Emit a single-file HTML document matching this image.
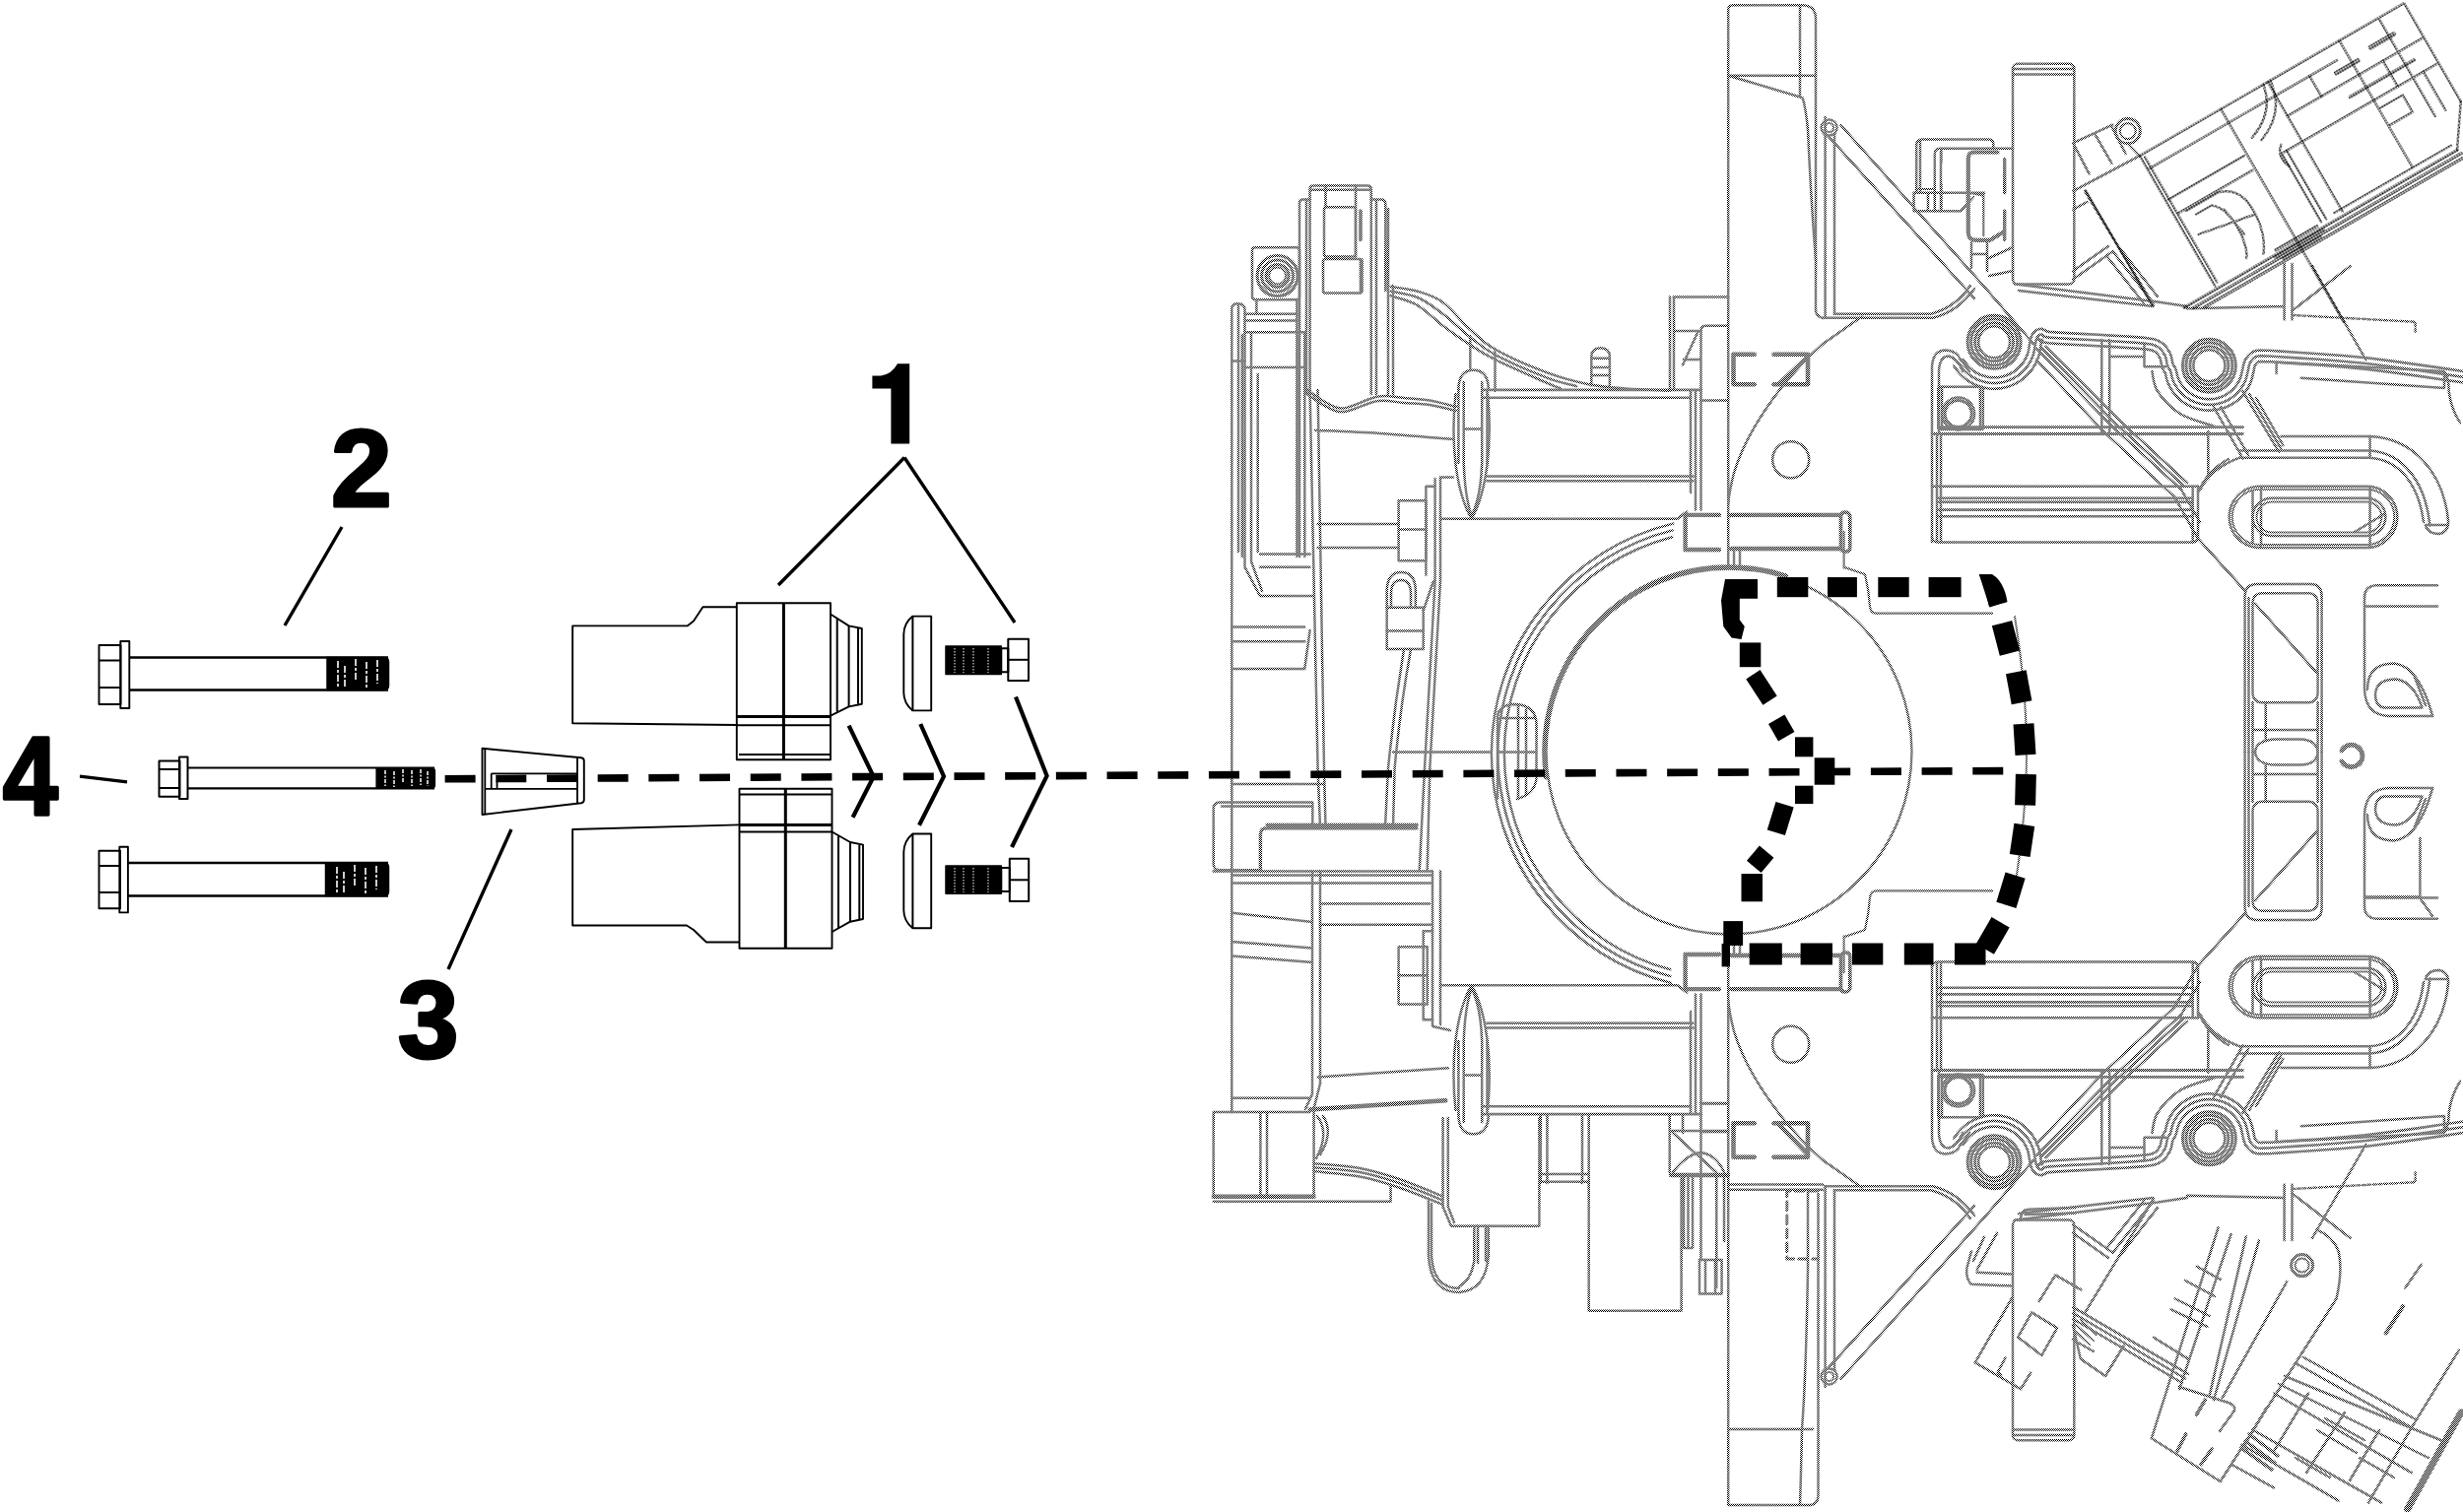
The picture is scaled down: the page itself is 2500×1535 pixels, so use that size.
<!DOCTYPE html>
<html>
<head>
<meta charset="utf-8">
<title>Exploded view</title>
<style>
html,body{margin:0;padding:0;background:#fff;}
body{width:2500px;height:1535px;overflow:hidden;font-family:"Liberation Sans",sans-serif;}
svg{display:block;position:absolute;left:0;top:0;}
.num{font-family:"Liberation Sans",sans-serif;font-weight:bold;fill:#000;stroke:#000;stroke-width:3.2px;stroke-linejoin:round;}
</style>
</head>
<body>
<svg width="2500" height="1535" viewBox="0 0 2500 1535">
<defs>
<pattern id="dz" width="2" height="2" patternUnits="userSpaceOnUse">
<rect x="0" y="0" width="1" height="1" fill="#000"/><rect x="1" y="1" width="1" height="1" fill="#000"/>
</pattern>
<pattern id="dk" width="2" height="2" patternUnits="userSpaceOnUse">
<rect x="0" y="0" width="2" height="2" fill="#000"/><rect x="1" y="0" width="1" height="1" fill="#fff"/>
</pattern>
</defs>
<rect x="0" y="0" width="2500" height="1535" fill="#fff"/>

<!-- ENGINE (gray dithered line art) -->
<g id="engine" fill="none" stroke="url(#dz) #808080" stroke-width="2.5" stroke-linecap="round" stroke-linejoin="round">
<!--ENGINE-BEGIN-->
<g id="symg">
<path d="M1504.2 395.9H1726.5M1504.2 403.8H1716M1509.5 483.5H1718.5M1509.5 488.3H1718.5" stroke-width="2.6"/>
<path d="M1716 396V500M1721 396V517.6M1726.5 396V517.6"/>
<path d="M1726.5 406.5H1754.2"/>
<path d="M1462 526.8H1702.6L1712 519.5"/>
<path d="M1480.4 396Q1480.4 375.7 1495.5 375.7Q1510.8 375.7 1510.8 396"/>
<path d="M1477.5 400C1472 450 1478 500 1493.7 527C1509 500 1515 450 1510 400"/>
<path d="M1485.7 388V470Q1487 505 1493.7 524Q1503 505 1504.2 470V388M1480.4 396V470M1509.5 396V470M1485.7 435.6H1504.2"/>
<path d="M1710.6 522.9H1745M1757 522.9H1868M1757 557H1868" stroke-width="4.4"/>
<path d="M1710.6 522V558H1745" stroke-width="4.4"/>
<path d="M1760 575.8V557M1766 575.8V557"/>
<path d="M1850 349.2Q1826 371 1808.5 393Q1772 440 1760 480Q1755 500 1754.2 512"/>
<circle cx="1817.7" cy="466.8" r="18.5"/>
<circle cx="2024.1" cy="347.3" r="27.0" stroke-width="3"/>
<circle cx="2024.1" cy="347.3" r="23.5" stroke-width="3"/>
<circle cx="2024.1" cy="347.3" r="19.5" stroke-width="3"/>
<circle cx="2024.1" cy="347.3" r="16.0" stroke-width="2.6"/>
<circle cx="2242.4" cy="371.2" r="27.0" stroke-width="3"/>
<circle cx="2242.4" cy="371.2" r="23.5" stroke-width="3"/>
<circle cx="2242.4" cy="371.2" r="19.5" stroke-width="3"/>
<circle cx="2242.4" cy="371.2" r="16.0" stroke-width="2.6"/>
<path d="M1992.7 364.9L1993.6 366.2L1994.8 368.1L1996.2 369.9L1997.4 371.5L1998.7 372.8L2000.1 374.1L2001.5 375.3L2003.0 376.5L2004.6 377.6L2006.2 378.5L2007.9 379.4L2009.6 380.3L2011.4 381.0L2013.2 381.6L2015.0 382.1L2016.8 382.6L2018.7 382.9L2020.6 383.1L2022.5 383.3L2024.4 383.3L2026.2 383.2L2028.1 383.1L2030.0 382.8L2031.9 382.4L2033.7 382.0L2035.5 381.4L2037.3 380.8L2039.1 380.0L2040.8 379.2L2042.4 378.3L2044.1 377.3L2045.6 376.2L2047.1 375.0L2048.5 373.8L2049.9 372.4L2051.2 371.0L2052.4 369.6L2053.5 368.1L2054.6 366.5L2055.5 364.8L2056.4 363.2L2057.2 361.4L2057.9 359.7L2058.5 357.9L2058.9 356.2L2059.3 354.3L2059.6 352.1L2060.0 349.9L2060.4 347.8L2060.8 345.5L2061.4 343.0L2062.4 340.4L2063.8 338.2L2065.7 336.2L2068.4 334.5L2072.0 333.8L2076.8 335.8L2076.9 336.3L2076.5 336.2L2080.6 336.9L2090.0 337.6L2102.9 338.4L2117.1 339.1L2130.3 339.8L2142.9 340.6L2155.6 341.3L2167.3 342.1L2176.6 342.9L2182.7 343.7L2186.8 344.4L2190.0 345.6L2193.1 347.2L2196.3 349.6L2199.0 352.6L2201.0 355.6L2202.7 358.6L2203.9 361.9L2204.6 365.1L2205.0 367.6L2205.4 369.2L2205.8 370.0L2206.3 370.8L2207.3 372.4L2208.4 374.8L2209.2 377.4L2209.8 379.9L2210.3 382.0L2210.8 383.9L2211.6 385.6L2212.5 387.4L2213.5 389.2L2214.7 390.9L2215.9 392.5L2217.2 394.0L2218.6 395.5L2220.1 396.9L2221.7 398.1L2223.3 399.3L2225.0 400.4L2226.8 401.4L2228.6 402.3L2230.5 403.0L2232.4 403.7L2234.4 404.2L2236.3 404.7L2238.4 405.0L2240.4 405.1L2242.4 405.2L2244.4 405.1L2246.4 405.0L2248.5 404.7L2250.4 404.2L2252.4 403.7L2254.3 403.0L2256.2 402.3L2258.0 401.4L2259.8 400.4L2261.5 399.3L2263.1 398.1L2264.7 396.9L2266.2 395.5L2267.6 394.0L2268.9 392.5L2270.1 390.9L2271.3 389.2L2272.3 387.4L2273.2 385.6L2274.0 383.8L2274.6 382.0L2275.1 380.0L2275.6 377.7L2276.2 375.5L2276.6 373.3L2277.1 371.0L2277.8 368.2L2278.9 365.4L2280.5 362.9L2282.4 360.6L2284.8 358.4L2287.9 356.7L2291.2 355.8L2294.4 355.6L2297.2 355.7L2300.1 355.8L2301.6 355.8L2303.0 355.8L2306.5 356.0L2315.4 356.6L2331.7 357.7L2353.5 359.2L2377.9 361.0L2402.2 363.3L2428.4 366.6L2457.0 370.6L2482.9 374.4L2500.8 377.1" stroke-width="2.6"/>
<path d="M1988.0 368.2L1988.9 369.5L1990.2 371.3L1991.6 373.4L1993.2 375.2L1994.7 376.8L1996.3 378.3L1997.9 379.8L1999.7 381.1L2001.5 382.3L2003.4 383.5L2005.3 384.5L2007.3 385.5L2009.3 386.3L2011.4 387.0L2013.5 387.6L2015.7 388.1L2017.8 388.5L2020.0 388.8L2022.2 389.0L2024.4 389.0L2026.6 388.9L2028.8 388.7L2031.0 388.4L2033.1 388.0L2035.3 387.5L2037.4 386.8L2039.4 386.1L2041.4 385.2L2043.4 384.3L2045.3 383.2L2047.2 382.0L2049.0 380.7L2050.7 379.4L2052.4 377.9L2054.0 376.4L2055.5 374.8L2056.9 373.1L2058.2 371.3L2059.4 369.5L2060.5 367.6L2061.5 365.7L2062.4 363.7L2063.3 361.6L2064.0 359.5L2064.5 357.4L2064.9 355.2L2065.2 353.1L2065.6 350.9L2066.0 348.8L2066.4 346.6L2066.8 344.7L2067.5 343.0L2068.4 341.7L2069.4 340.6L2070.6 339.8L2072.0 339.5L2072.8 339.8L2073.2 340.6L2075.0 341.7L2080.0 342.6L2089.6 343.3L2102.6 344.1L2116.8 344.8L2130.0 345.5L2142.5 346.3L2155.2 347.0L2166.8 347.8L2176.0 348.6L2181.9 349.3L2185.4 349.9L2187.7 350.7L2190.0 352.0L2192.4 353.8L2194.5 356.1L2196.1 358.5L2197.5 361.0L2198.5 363.5L2199.0 366.2L2199.5 368.8L2200.0 371.0L2200.7 372.7L2201.5 373.9L2202.3 375.2L2203.1 376.7L2203.7 378.8L2204.2 381.1L2204.8 383.6L2205.5 385.9L2206.4 388.0L2207.5 390.1L2208.7 392.2L2210.0 394.2L2211.4 396.0L2213.0 397.8L2214.6 399.6L2216.4 401.2L2218.2 402.7L2220.1 404.0L2222.1 405.3L2224.2 406.5L2226.3 407.5L2228.5 408.4L2230.7 409.1L2233.0 409.8L2235.3 410.3L2237.7 410.6L2240.0 410.8L2242.4 410.9L2244.8 410.8L2247.1 410.6L2249.5 410.3L2251.8 409.8L2254.1 409.1L2256.3 408.4L2258.5 407.5L2260.6 406.5L2262.7 405.3L2264.7 404.0L2266.6 402.7L2268.4 401.2L2270.2 399.6L2271.8 397.8L2273.4 396.0L2274.8 394.2L2276.1 392.2L2277.3 390.1L2278.4 388.0L2279.3 385.9L2280.0 383.6L2280.6 381.3L2281.2 379.0L2281.7 376.7L2282.2 374.5L2282.6 372.2L2283.2 370.0L2284.0 368.0L2285.1 366.2L2286.5 364.5L2288.1 363.0L2290.0 362.0L2292.1 361.5L2294.4 361.3L2297.1 361.4L2300.0 361.5L2301.7 361.5L2302.7 361.5L2306.1 361.7L2315.0 362.3L2331.3 363.4L2353.1 364.8L2377.4 366.7L2401.6 369.0L2427.7 372.3L2456.2 376.3L2482.0 380.1L2500.0 382.7" stroke-width="2.6"/>
<path d="M1983.3 371.4L1984.2 372.7L1985.5 374.6L1987.1 376.9L1988.9 379.0L1990.6 380.9L1992.5 382.6L1994.4 384.2L1996.4 385.7L1998.4 387.1L2000.6 388.4L2002.8 389.6L2005.0 390.7L2007.3 391.6L2009.7 392.5L2012.1 393.2L2014.5 393.7L2017.0 394.2L2019.5 394.5L2022.0 394.7L2024.4 394.7L2026.9 394.6L2029.4 394.4L2031.9 394.1L2034.4 393.6L2036.8 393.0L2039.2 392.2L2041.5 391.4L2043.8 390.4L2046.1 389.3L2048.2 388.1L2050.4 386.8L2052.4 385.3L2054.4 383.8L2056.2 382.1L2058.0 380.4L2059.7 378.6L2061.3 376.6L2062.8 374.6L2064.2 372.5L2065.5 370.4L2066.6 368.2L2067.7 365.9L2068.6 363.6L2069.4 361.2L2070.1 358.6L2070.5 356.2L2070.9 354.0L2071.2 352.0L2071.6 349.8L2072.0 347.7L2072.3 346.3L2072.6 345.6L2072.9 345.1L2073.0 344.9L2072.7 345.1L2072.0 345.2L2068.7 343.9L2069.5 345.0L2073.4 347.2L2079.4 348.3L2089.3 349.0L2102.3 349.7L2116.5 350.5L2129.7 351.2L2142.2 351.9L2154.9 352.7L2166.4 353.5L2175.4 354.3L2181.1 354.9L2184.0 355.5L2185.4 355.9L2186.9 356.8L2188.6 358.0L2190.0 359.6L2191.3 361.5L2192.3 363.4L2193.0 365.1L2193.4 367.3L2193.9 369.9L2194.6 372.8L2195.7 375.3L2196.7 377.0L2197.3 377.9L2197.7 378.7L2198.2 380.2L2198.6 382.4L2199.3 385.1L2200.2 387.9L2201.3 390.4L2202.5 392.9L2203.9 395.2L2205.4 397.5L2207.0 399.6L2208.8 401.7L2210.6 403.6L2212.6 405.5L2214.7 407.2L2216.9 408.8L2219.2 410.2L2221.6 411.5L2224.0 412.7L2226.5 413.7L2229.1 414.6L2231.7 415.3L2234.3 415.9L2237.0 416.3L2239.7 416.5L2242.4 416.6L2245.1 416.5L2247.8 416.3L2250.5 415.9L2253.1 415.3L2255.7 414.6L2258.3 413.7L2260.8 412.7L2263.2 411.5L2265.6 410.2L2267.9 408.8L2270.1 407.2L2272.2 405.5L2274.2 403.6L2276.0 401.7L2277.8 399.6L2279.4 397.5L2280.9 395.2L2282.3 392.9L2283.5 390.4L2284.6 387.9L2285.5 385.2L2286.2 382.7L2286.7 380.3L2287.3 378.0L2287.8 375.6L2288.2 373.4L2288.6 371.8L2289.1 370.6L2289.8 369.5L2290.6 368.4L2291.4 367.7L2292.1 367.3L2293.0 367.1L2294.5 367.0L2296.9 367.1L2299.9 367.2L2301.8 367.2L2302.5 367.1L2305.7 367.3L2314.6 368.0L2331.0 369.1L2352.7 370.5L2377.0 372.4L2401.0 374.7L2426.9 377.9L2455.4 381.9L2481.2 385.7L2499.2 388.3" stroke-width="2.6"/>
<path d="M1961 550V372Q1962 355.5 1975 355.5Q1986 356 1990 365L1999 377"/>
<path d="M1968 440V376Q1969 361.5 1978 361.5Q1986 363 1992.3 377"/>
<rect x="1967.3" y="392.8" width="45.5" height="43.2" rx="2.0"/>
<circle cx="1987.7" cy="420.0" r="13.6" stroke-width="3"/>
<circle cx="1987.7" cy="420.0" r="16.5" stroke-width="2.4"/>
<path d="M2010 392.8V436M1971 392.8V436"/>
<path d="M1961 545Q1961.5 550.5 1967 550.5H2226Q2231 550 2231 545V493.8M2225.7 493.8V549M1966 442V549M1970 442V549"/>
<path d="M1967.3 433.7H2276.5M1961 440.5H2276.5" stroke-width="2.8"/>
<path d="M1961 493.8H2231M1968 505.7H2225M1968 509.6H2225M1968 517.6H2225M1968 524.2H2225" stroke-width="2.6"/>
<path d="M2241.3 438.3V486"/>
<path d="M2067.3 354L2144.6 433.7M2076.4 351.9L2153.7 429.2M2067 365.5L2135.5 438.3M2072 353L2149 431.5"/>
<path d="M2133.3 345V438.3M2141.2 345V438.3M2141.2 362H2176.5M2176.5 348.4V372.3H2198"/>
<path d="M2184.4 376.9C2185.3 380.3 2185.3 390.1 2190.0 397.3C2194.7 404.5 2203.3 414.1 2212.8 420.0C2222.3 425.9 2241.3 430.5 2247.0 432.6"/>
<path d="M2135.5 438.3L2207 504.3L2231 546.7L2278.6 599.6M2144.6 433.7L2214 497L2233 530M2153.7 429.2L2220 490M2149 431.5L2217 493.5"/>
<path d="M2276.5 397.3L2313 458.7M2290 404L2317.4 452M2247 413.2L2276.5 465.5M2283 400L2315 455M2254 413L2282 462"/>
<path d="M2313 367.8L2481 376.9Q2486 385 2485.7 397.3Q2488 415 2497 429.2M2335.6 383.7L2481 394M2310.6 367.8V379.1M2481 376.9V394"/>
<path d="M2315.6 443H2405.6C2450 445 2480 480 2485 528Q2486 540 2476 542Q2464 542 2462 533"/>
<path d="M2273.3 457.5H2405.6C2440 460 2462 490 2466.4 533.4M2273.3 464.7H2405.6C2436 467 2455 492 2460 530M2405.6 443V465M2462 533H2485"/>
<path d="M2233.6 496.4Q2245 475 2273.3 464.7M2231 500Q2240 478 2262 466"/>
<rect x="2262.7" y="493.8" width="170.6" height="62.2" rx="31.1"/>
<rect x="2265.7" y="496.8" width="164.6" height="56.2" rx="28.1" stroke-width="2"/>
<rect x="2286.5" y="505.7" width="134.9" height="38.3" rx="19.2"/>
<rect x="2290.5" y="509.5" width="126.9" height="31.0" rx="15.5" stroke-width="2"/>
<path d="M2286.5 499V551M2295 496V554M2405.6 493.8V556M2390 540L2420 522"/>
<path d="M1871.6 540V576.4M1873.3 576.4L1893 583Q1897 600 1898 616Q1899 622.7 1905 622.7H2022" stroke-width="2.2"/>
<path d="M1868.5 524V556Q1869 560 1873 560Q1877.8 560 1877.8 556V524Q1877 520 1873 520Q1869 520 1868.5 524" stroke-width="3.6"/>
<path d="M2045 626Q2057 700 2057 763.5" stroke-width="2"/>
<path d="M2278.6 763.5V605Q2279 593 2291 593H2345Q2356.6 593 2356.6 605V763.5M2282.5 763.5V607"/>
<rect x="2286.5" y="602.2" width="66.1" height="111.1" rx="9.0"/>
<path d="M2289 612.8L2352.6 684.2M2299.7 713.3V750.4M2286.5 741H2352.6M2289 763.5Q2290 751 2310 750.4H2335Q2352 751 2352.6 763.5M2286.5 713V763.5M2352.6 713V763.5"/>
<path d="M2474 594.3H2412Q2400 595 2400 607V700Q2401 726 2425 727H2469M2400 615.4H2474"/>
<path d="M2403 700Q2403 673.6 2430 673.6Q2455 676 2469 726.6M2411 705Q2412 689.5 2432 689.5Q2450 692 2458.5 718.6H2420Q2411 717 2411 705M2450 685L2462 716"/>
<path d="M1852.6 119V322.8M1862 135V318.8"/>
<circle cx="1856.6" cy="129.6" r="8.0"/>
<circle cx="1856.6" cy="129.6" r="4.5" stroke-width="2"/>
<path d="M1868.5 127L2013.3 290.2L2064 349M1855.3 137.6L2004 303"/>
<path d="M1862 318.8H1960Q1985 312 2000 290M1852 322.8H1962Q1988 316 2004 293M1889.7 321.4L1850 349.2"/>
<rect x="2043.0" y="64.8" width="62.3" height="223.6" rx="5.0"/>
<path d="M2044 75.4H2104.5M2044 70H2104.5"/>
<path d="M2044.6 288.2L2190 306.4L2219.7 311M2049 295L2185.6 311M2219.7 313.2L2318.6 311M2318.6 268V324.6M2326.5 268V324.6"/>
<path d="M2326.5 320L2451.6 326.8V337" stroke-width="2.4" stroke-dasharray="3 2.5"/>
<path d="M2347 270L2401.6 365.5M2385.7 270L2326.5 315.5"/>
<path d="M2104.2 283.6L2144.5 255.3M2104.2 275L2140 250M2144.5 255.3L2183.8 305.5M2138 259.5L2176 308M2151 251L2190 301M2116.2 194.2L2186 309.8"/>
</g>
<use href="#symg" transform="matrix(1 0 0 -1 0 1527)"/>
<path d="M1754.2 575.8V10Q1754.2 5.3 1759 5.3H1830Q1843 6 1843 19V316Q1844 321 1850 323"/>
<path d="M1827 5.3V97"/>
<path d="M1754.2 76.7H1843M1754.2 76.7L1829.6 99.2Q1833 110 1835 132Q1838 200 1843 264"/>
<path d="M1754.2 981V1527.9H1838Q1845.5 1527 1845.5 1518V1212"/>
<path d="M1754.2 1202.5H1850M1754.2 1207.8H1850M1754.2 1451H1840"/>
<path d="M1835 1207.8V1290Q1833 1400 1829 1451Q1828 1500 1827 1527"/>
<path d="M1754.2 301.6H1698.7M1695 301.6V396M1699 301.6V396"/>
<path d="M1753 330.7H1731Q1726.5 331 1726.5 336V396M1723.8 336L1708 370.4M1699 336H1726.5M1709 365H1725"/>
<path d="M1780.7 359.8H1759.5V390.2H1780.7M1800.5 359.8H1835V390.2H1800.5M1835 362L1806 390" stroke-width="4.6"/>
<path d="M1695.9 997.9A240.0 240.0 0 0 1 1698.0 531.6"/>
<path d="M1695.5 991.1A233.5 233.5 0 0 1 1697.5 538.4"/>
<path d="M1695.2 984.3A227.0 227.0 0 0 1 1697.2 545.2"/>
<circle cx="1755.0" cy="763.0" r="185.5" stroke-width="2.4"/>
<path d="M1569.3 789.1A187.5 187.5 0 0 1 1812.9 584.7" stroke-width="4.6"/>
<path d="M1520 811V728Q1521 715 1538 715Q1559 716 1559.5 735V790Q1558 806 1540 811"/>
<path d="M1520 729H1558M1520 763.6H1558M1541 716V810M1549 720V806"/>
<path d="M1329.6 400V192Q1329.6 188.4 1334 188.4H1388Q1391.8 188.4 1391.8 192V400"/>
<path d="M1331 192.8H1391M1345.5 188.4V210M1376 188.4V260.6M1326 202.4V400M1397 204V400"/>
<path d="M1329.6 202.4H1322Q1319 202.4 1319 206V341"/>
<path d="M1391.8 202.4H1402Q1406.3 202.4 1406.3 207V295M1409 212V400M1414 290V400"/>
<rect x="1344.0" y="210.3" width="32.0" height="50.3" rx="2.0"/>
<rect x="1343.0" y="263.0" width="39.5" height="34.6" rx="2.0"/>
<path d="M1381 214V243.4M1381.5 264.5V296.3" stroke-width="3.6"/>
<rect x="1271.0" y="251.3" width="48.0" height="52.9" rx="3.0"/>
<circle cx="1296.6" cy="280.0" r="20.5" stroke-width="3.2"/>
<circle cx="1296.6" cy="280.0" r="16.0" stroke-width="3.2"/>
<circle cx="1296.6" cy="280.0" r="11.5" stroke-width="3.2"/>
<circle cx="1296.6" cy="280.0" r="8.5" stroke-width="2"/>
<path d="M1275.4 304.2V318.8M1316.4 304.2V565M1319 341V565"/>
<path d="M1250.3 1129V313Q1250.3 308.2 1256 308.2Q1263.5 308.2 1263.5 314V575.8L1279 605H1332.3"/>
<path d="M1257 309V560M1260.8 340V565M1270 338V570L1281 600M1276.7 380V560"/>
<path d="M1263.5 318.8H1316.4M1263.5 325.4H1316.4M1263.5 337.3H1324.3M1250.3 366.4H1263.5M1263.5 373H1324.3M1324.3 337.3V565"/>
<path d="M1411.6 291.0C1416.3 291.8 1431.2 293.4 1440.0 296.0C1448.8 298.6 1456.1 300.7 1464.6 306.9C1473.1 313.1 1482.2 325.4 1491.0 333.3C1499.8 341.2 1504.3 347.0 1517.5 354.5C1530.7 362.0 1554.5 372.4 1570.4 378.3C1586.3 384.2 1599.4 387.5 1612.7 390.2C1626.0 392.9 1636.3 393.4 1650.0 394.5C1663.7 395.6 1687.2 396.4 1694.7 396.8"/>
<path d="M1411.6 300.3C1416.0 301.8 1429.2 304.4 1438.0 309.5C1446.8 314.6 1455.8 324.1 1464.6 330.7C1473.4 337.3 1482.2 343.5 1491.0 349.2C1499.8 354.9 1504.3 358.4 1517.5 365.0C1530.7 371.6 1559.4 384.0 1570.4 388.9C1581.4 393.8 1581.4 393.3 1583.6 394.2"/>
<path d="M1411.6 295.6C1416.3 296.8 1431.2 298.6 1440.0 302.5C1448.8 306.4 1456.1 312.4 1464.6 318.8C1473.1 325.2 1482.2 334.3 1491.0 341.2C1499.8 348.1 1504.3 352.9 1517.5 360.0C1530.7 367.1 1556.7 378.3 1570.4 383.6C1584.2 388.9 1595.1 390.6 1600.0 392.0"/>
<path d="M1615.3 391.5V362Q1615.5 353.2 1624.6 353.2Q1633.9 353.2 1633.9 362V391.5M1615.3 363.8H1633.9M1615.3 373H1633.9M1615.3 381H1633.9"/>
<path d="M1492.3 341.3V375.7M1517.5 357V397"/>
<path d="M1279 562.5H1329.6M1279 575.8H1329.6"/>
<path d="M1250.3 636.6H1324.3M1250.3 651.2H1324.3M1250.3 679H1324.3L1329.6 640"/>
<path d="M1329.6 396L1337.6 780M1337.6 396L1344 780"/>
<path d="M1327.0 396.0C1330.0 398.0 1338.8 404.9 1345.0 408.0C1351.2 411.1 1355.1 415.3 1364.0 414.4C1372.9 413.5 1388.2 404.2 1398.4 402.5C1408.6 400.8 1416.2 403.3 1425.0 404.0C1433.8 404.7 1442.5 405.0 1451.3 406.5C1460.1 408.0 1473.4 411.9 1477.8 413.0"/>
<path d="M1327.0 400.0C1330.0 402.0 1338.8 409.0 1345.0 412.0C1351.2 415.0 1355.1 418.8 1364.0 418.0C1372.9 417.2 1388.2 408.5 1398.4 407.0C1408.6 405.5 1416.2 408.3 1425.0 409.0C1433.8 409.7 1442.5 409.7 1451.3 411.0C1460.1 412.3 1473.4 416.0 1477.8 417.0"/>
<path d="M1335.0 436.9C1345.8 437.4 1376.7 438.5 1400.0 440.0C1423.3 441.5 1462.5 445.0 1475.0 446.0"/>
<path d="M1337.6 532H1419.6M1337.6 556H1419.6"/>
<rect x="1419.6" y="508.3" width="27.8" height="60.9"/>
<path d="M1419.6 537.4H1447.4"/>
<path d="M1447.4 493.8V583.7M1447.4 493.8H1456.6M1462 484.5H1475"/>
<path d="M1456.6 486V590L1446 780M1462 485V590L1451.3 780"/>
<path d="M1407.7 617V600Q1408 581 1422 581Q1436.8 581 1436.8 600V617M1412 617V603Q1412 589 1422 589Q1432 589 1432 603V617"/>
<rect x="1407.7" y="616.8" width="37.0" height="42.2"/>
<path d="M1407.7 640.6H1444.7"/>
<path d="M1425 659Q1415 720 1409 780L1406 839.5M1432 659Q1421 720 1415.6 780L1414 839.5M1444.7 620L1455 590"/>
<path d="M1414.3 763.6H1512"/>
<path d="M1344 780L1345.5 839.5M1337.6 780L1340 839.5M1446 780L1440.7 884M1451.3 780L1448.7 884"/>
<path d="M1250.3 795.9H1343"/>
<path d="M1332.3 814.4H1238Q1231.7 814.4 1231.7 821V877Q1231.7 883.2 1238 883.2H1280M1332.3 814.4V839.5M1240 818.5H1330"/>
<path d="M1279.4 884V847Q1279.4 840.8 1286 840.8H1438M1286 837.5H1438" stroke-width="3.4"/>
<path d="M1231.7 884.5H1454M1250.3 888.5H1454M1250.3 896.4H1454"/>
<path d="M1332 884.5V1110.7M1340 884.5V1100"/>
<path d="M1340 917.6H1451M1340 938.7H1454"/>
<path d="M1250.3 926.8L1332 936M1250.3 956L1332 962.6M1250.3 970.5L1332 977M1250.3 1114.7H1328"/>
<path d="M1454 884.5V1042L1472 1046M1462 884.5V1040"/>
<rect x="1419.6" y="961.2" width="29.1" height="58.2"/>
<path d="M1419.6 990.3H1448.7M1444.7 945.3V1035.3M1444.7 945.3H1454M1444.7 1035.3H1454"/>
<path d="M1337.6 1093.5L1469.8 1084.2"/>
<path d="M1329.6 1126.5L1467.2 1117.3" stroke-width="4.4"/>
<path d="M1332 1110.7L1325 1126M1340 1100L1334 1124"/>
<path d="M1231.7 1129H1329.6M1231.7 1129V1214.4M1279.4 1129V1214M1286 1129V1214M1333.6 1126V1214"/>
<path d="M1231.7 1214.8H1333.6" stroke-width="4.4"/>
<path d="M1231.7 1219.7H1411.6V1202.5"/>
<path d="M1337 1133Q1350 1150 1336 1176M1343 1133Q1354 1150 1340 1172"/>
<path d="M1333.6 1181.3C1341.3 1182.1 1365.6 1183.4 1380.0 1186.0C1394.4 1188.6 1405.9 1192.3 1420.0 1197.0C1434.1 1201.7 1457.2 1211.5 1464.6 1214.4"/>
<path d="M1333.6 1185.3C1341.3 1186.1 1365.6 1187.4 1380.0 1190.0C1394.4 1192.6 1405.9 1196.3 1420.0 1201.0C1434.1 1205.7 1457.2 1215.5 1464.6 1218.4"/>
<path d="M1333.6 1189.0C1341.3 1189.9 1365.6 1191.8 1380.0 1194.5C1394.4 1197.2 1405.9 1200.8 1420.0 1205.5C1434.1 1210.2 1457.2 1220.1 1464.6 1223.0"/>
<path d="M1450 1217V1275Q1452 1312 1481 1312Q1508 1310 1510.8 1275V1244.8M1453 1222V1275Q1455 1308 1481 1308M1496.3 1244.8V1280Q1493 1300 1481 1306M1500 1244.8V1282M1508 1244.8V1280"/>
<path d="M1464.6 1135V1225L1473 1244.8H1562.4V1135M1469.8 1135V1225L1476 1241"/>
<path d="M1563.8 1132V1201M1570.4 1132V1201M1606 1132V1201M1612.7 1132V1201M1563.8 1191.9H1612.7M1563.8 1199.8H1612.7"/>
<path d="M1612.7 1201V1330.8H1706.6V1196"/>
<path d="M1694.7 1132V1190M1708 1132V1150M1694.7 1148H1754.2M1726.5 1132V1193"/>
<path d="M1696 1193H1754" stroke-width="4.4"/>
<path d="M1698 1150L1742 1190M1698 1190Q1712 1172 1726 1170Q1742 1172 1750 1190M1726.5 1120H1754.2M1726.5 1149H1754.2"/>
<path d="M1709 1193V1267M1713.5 1193V1267M1718 1193V1267M1726.5 1193V1279M1709 1267H1718M1742.3 1193V1307M1750 1193V1260"/>
<rect x="1725.0" y="1279.0" width="22.6" height="34.6"/>
<path d="M1731 1279V1313M1741 1279V1313"/>
<path d="M1780.7 1140.3H1759.5V1174.7H1780.7M1800.5 1140.3H1835V1174.7H1800.5M1835 1172L1806 1142" stroke-width="4.6"/>
<path d="M1845 1209H1813.8V1277.9H1845" stroke-width="3" stroke-dasharray="9 5"/>
<path d="M2377.0 761.8A11.2 11.2 0 1 1 2377.0 773.0" stroke-width="4.8"/>
<path d="M2456.4 851V912M2400 910.6H2456.4M2456.4 912L2469 930"/>
<path d="M1945.2 195.8V147Q1945.5 141.5 1951 141.5H2018Q2023.3 141.5 2023.3 146V150.8M1949 144V195.8"/>
<path d="M1963.8 214.3V156Q1964 150.8 1969 150.8H2043M1970 154V214.3"/>
<path d="M1942.6 195.8H2014M1942.6 214.3H1990M1942.6 195.8V214.3M1957 195.8V214.3M1990 214.3L2003 200"/>
<path d="M2027.6 154.5H2004Q1997.8 154.5 1997.8 161V236Q1998 243.8 2006 243.8H2020L2033 236" stroke-width="4.2"/>
<path d="M2013.3 197V239M2000 196L2013.3 198.6M1970.5 151V165M1970.5 187V213M1945.5 192H1962" stroke-width="2.2"/>
<path d="M2034.7 161.4V195.8M2034.7 214.3V243.4" stroke-width="3.4"/>
<path d="M2001 246V272M2017 246V275M2019 262L2043 251M2019 280L2043 275M2003 258H2017"/>
<g transform="translate(2171.8 158.2) rotate(-30)"><path d="M0 0H310M310 0V115M280 0V115M2 16H222M150 40H310M3 53H92M5 70H92M128 70H308M142 149H279"/><path d="M-38 156H282M-30 161H284M-20 166H286" stroke-width="3.2"/><path d="M72 152H120M68 158H124M74 163H118" stroke-width="3.4"/><path d="M0 0V153M95 0V250M150 0V152M234 0V148M126 70V150M132 70V150M-65 3V138M4 4V150"/><path d="M13 72H50Q75 78 72 113Q70 135 59 149M20 80H38Q52 90 49 123Q47 138 42 144M12 99L72 110M47 90L52 122"/><path d="M258 22H285M215 27H240" stroke-width="5"/><path d="M215 55H290" stroke-width="3.6"/><path d="M236 80H262V100H236M130 62Q120 70 126 85M145 0Q140 30 108 41M153 0Q150 35 115 48M190 16V40M262 40V70M292 70V115M310 115L282 156"/></g>
<path d="M2104.2 145.1L2144.5 126.6M2104.2 145.1L2120.6 176.7M2126 135.3L2143.5 165.8M2143.5 128.7L2157.6 156M2159 145L2171.8 158.2"/>
<circle cx="2159.8" cy="133.1" r="12.5" stroke-width="3"/>
<circle cx="2159.8" cy="133.1" r="8.0" stroke-width="2.2"/>
<path d="M2104.2 194.2L2171.8 158.2M2104.2 212.7L2118.4 205"/>
<path d="M2251.5 1246.5L2183.8 1460.3L2253.7 1504L2330 1384L2371.5 1318.5Q2378 1290 2373.7 1270.5Q2368 1255 2351.8 1248.6"/>
<path d="M2264.6 1253L2212.2 1410M2279.8 1255.2L2242.7 1416.6M2292.9 1259.5L2247 1421M2321.3 1301L2255.8 1418.8"/>
<circle cx="2336.6" cy="1284.6" r="11.0" stroke-width="3"/>
<circle cx="2336.6" cy="1284.6" r="7.0" stroke-width="2"/>
<path d="M2229.6 1285.7L2253.7 1298.8M2207.8 1318.5L2242.7 1336M2203.5 1329.4L2240.6 1346.8M2186 1357.7L2221 1379.6M2218 1300L2248 1316"/>
<path d="M2212 1408L2262 1424Q2270 1427 2268 1432L2253 1453"/>
<path d="M2229.6 1436L2238.4 1421M2210 1473L2218.7 1456M2234 1486.5L2245 1471" stroke-width="3.6"/>
<path d="M2104.2 1327.2L2221 1394.8M2104.2 1333L2218 1399.5M2104.2 1339L2215 1404"/>
<path d="M2104 1345L2111.8 1379.6L2137 1397L2155.5 1366.5M2104 1360L2125 1372"/>
<path d="M2330 1384L2447.8 1449.4L2495.8 1370.8M2338 1378L2452 1441"/>
<path d="M2319 1397L2478.4 1462.5M2308.2 1414.5L2447.8 1495.2M2286.4 1451.6L2417.3 1525.7M2275.5 1466.8L2373.7 1523.6M2264.6 1486.5L2308.2 1510.5M2313 1405L2465 1480"/>
<path d="M2498 1434L2443.5 1532.3" stroke-width="7"/>
<path d="M2343 1414.5L2308 1473.4M2380 1434L2341 1495M2447.8 1449.4L2404 1525.7M2415 1452L2385 1503M2300 1430L2278 1468"/>
<path d="M2275 1470L2306 1492M2279 1463L2309 1485M2283 1456L2312 1478" stroke-width="3.4"/>
<path d="M2360 1440L2400 1462M2352 1452L2392 1475M2395 1480L2430 1500M2330 1480L2365 1500" stroke-width="2.4"/>
<path d="M2441.3 1307.6L2457.7 1283.6"/>
<path d="M2421.7 1353.4L2439.1 1326.1" stroke-width="4"/>
<path d="M2042.8 1316.7L2004.8 1383.3L2051.1 1410.2L2061.3 1393.5M2069.6 1321.3L2086.3 1294.4L2112.2 1309.3"/>
<path d="M2062.2 1332.4L2088.1 1348.1L2072.4 1375.9L2048.3 1357.4ZM2035.4 1378.7L2028 1392.6L2031 1396"/>
<path d="M2027 1251.9L2006.7 1288.9M2006.7 1291.7L2042.8 1293.5M2001 1270.4L1996.5 1287Q1995 1298 2001 1303.7L2042.8 1305.6M2014 1256L2003 1280"/>
<path d="M2051 1239Q2051 1228 2060 1227.8L2106 1226M2056 1233L2106 1231.5"/>
<path d="M2107 1345L2125 1361M2107 1352L2121 1365M2112 1340L2128 1355" stroke-width="2"/>
<!--ENGINE-END-->
</g>

<!-- BLACK PARTS -->
<g id="parts" fill="none" stroke="#000" stroke-width="1.9" stroke-linejoin="round" stroke-linecap="butt">
<!--PARTS-BEGIN-->
<!-- top long bolt -->
<rect x="100.5" y="655" width="22" height="60" />
<path d="M100.5 670.5H122.5M100.5 698H122.5" stroke-width="2"/>
<rect x="122.3" y="651" width="9" height="68" />
<path d="M131.5 667.5H394M131.5 700.5H394" stroke-width="2.4"/>
<path d="M332 667.5H390Q394.5 667.5 394.5 672V696Q394.5 700.5 390 700.5H332Z" fill="#000" stroke="#000" stroke-width="1.5"/>
<path d="M343 671V697M350 676V699M361 669V690M372 672V698M383 670V694" stroke="#fff" stroke-width="1.6" stroke-dasharray="7 2 3 2"/>
<!-- bottom long bolt -->
<rect x="100.5" y="863.7" width="21.5" height="58.5" />
<path d="M100.5 879H122M100.5 906H122" stroke-width="2"/>
<rect x="121.3" y="859.7" width="8.6" height="66.7" />
<path d="M129.8 876H394M129.8 909.5H394" stroke-width="2.4"/>
<path d="M330.5 876H390Q394.5 876 394.5 880.5V905Q394.5 909.5 390 909.5H330.5Z" fill="#000" stroke="#000" stroke-width="1.5"/>
<path d="M342 880V906M349 885V908M360 878V899M371 881V907M382 879V903" stroke="#fff" stroke-width="1.6" stroke-dasharray="7 2 3 2"/>
<!-- middle bolt (4) -->
<rect x="161.5" y="772.5" width="21" height="36.2" stroke-width="2"/>
<path d="M161.5 781H182.5M161.5 800H182.5" stroke-width="1.8"/>
<rect x="182" y="768.5" width="8.5" height="42.5" stroke-width="2"/>
<path d="M190.5 779.5H441M190.5 800.3H441" stroke-width="2.2"/>
<path d="M382 779.5H438Q441.5 779.5 441.5 783V797Q441.5 800.3 438 800.3H382Z" fill="#000" stroke="#000" stroke-width="1.2"/>
<path d="M391 782V798M400 783V799M409 781V795M418 782V798M427 781V797M434 783V798" stroke="#fff" stroke-width="1.5" stroke-dasharray="4 1.5 2 1.5"/>
<!-- cone (3) -->
<path d="M489.5 759.8L590 769.3Q592.8 769.6 592.8 772.5V812Q592.8 814.8 590 815.2L489.5 827Z" fill="#fff"/>
<path d="M492.3 760.5V826.5M586 769.5V815.5" stroke-width="1.8"/>
<path d="M498.7 785.3H586M492.3 800.8H586M498.7 785.3V800.8M504.5 793V800.8" stroke-width="1.8"/>
<!-- upper block -->
<path d="M747.8 616.3H713.4L704 630.5L697.6 635.4H581.2V734.2L747.8 736" fill="#fff"/>
<rect x="747.8" y="612.3" width="95.2" height="159" fill="#fff"/>
<path d="M795.4 612.3V771.3" stroke-width="3"/>
<path d="M747.8 727.6H843" stroke-width="3"/>
<path d="M747.8 736.2H843M750 766H843" stroke-width="2"/>
<path d="M843 623.5L861.6 635.4L874.8 638V714.8L861.6 717.4L843 726.7" />
<path d="M849.7 628V722.5M861.6 635.4V717.4M871 638V714.8" stroke-width="2"/>
<!-- lower block -->
<path d="M750.5 837.4L581.2 842V939.5H697L704 944L717 956.5H750.5" fill="#fff"/>
<rect x="750.5" y="800.8" width="94" height="162" fill="#fff"/>
<path d="M797.3 800.8V962.8" stroke-width="3"/>
<path d="M750.5 837.4H844.5" stroke-width="3"/>
<path d="M750.5 844.6H844.5M750.5 806.5H844.5" stroke-width="2"/>
<path d="M844.5 844.5L863 855L876 857.6V933L863 935.7L844.5 946" />
<path d="M851 849V942M863 855V935.7M872.3 857.6V933" stroke-width="2"/>
<!-- washers -->
<path d="M926.4 625.6H945.2V721.4H926.4Q917.3 714 917.3 703V644Q917.3 633 926.4 625.6Z" fill="#fff"/>
<path d="M926.4 625.6V721.4" stroke-width="2"/>
<path d="M926.4 846.5H945.2V942.3H926.4Q917.3 935 917.3 924V865Q917.3 854 926.4 846.5Z" fill="#fff"/>
<path d="M926.4 846.5V942.3" stroke-width="2"/>
<!-- short bolts -->
<rect x="960" y="656" width="56.3" height="28.5" fill="#000" stroke-width="1.5"/>
<path d="M969 658V683M978 658V683M988 658V683M1003 658V683" stroke="#fff" stroke-width="1" stroke-dasharray="1.5 1.5"/>
<rect x="1016.3" y="658.2" width="7" height="24" fill="#fff" stroke-width="2"/>
<rect x="1023.3" y="648.8" width="20.7" height="42.2" stroke-width="2"/>
<path d="M1023.3 669.8H1044" stroke-width="2"/>
<rect x="960" y="879" width="56.3" height="28.2" fill="#000" stroke-width="1.5"/>
<path d="M969 881V906M978 881V906M988 881V906M1003 881V906" stroke="#fff" stroke-width="1" stroke-dasharray="1.5 1.5"/>
<rect x="1016.3" y="881" width="8.5" height="24" fill="#fff" stroke-width="2"/>
<rect x="1024.8" y="871.8" width="19.4" height="43.2" stroke-width="2"/>
<path d="M1024.8 893.3H1044.2" stroke-width="2"/>
<!-- leaders -->
<path d="M347 535L289 635M918 464.5L790 594M918 464.5L1030 632M519 842L455 984" stroke-width="3.4"/>
<path d="M81 788.2L129 793.8" stroke-width="3.2"/>
<!-- chevrons -->
<path d="M861.6 736.7L886.7 788.5L865.6 829.8M934.3 735L958 788.2L933 837.8M1031 707.6L1062.6 787.6L1027 860" stroke-width="4.2" stroke-linejoin="miter"/>
<!-- centre dashed line -->
<path d="M451.6 790.8L2034 782.6" stroke-width="7.6" stroke-dasharray="31 20.69"/>
<!--PARTS-END-->
</g>

<!-- THICK DASHED -->
<g id="thick" fill="none" stroke="#000">
<!--THICK-BEGIN-->
<g fill="#000" stroke="none">
<rect x="1803.8" y="586.0" width="31.5" height="20.2"/>
<rect x="1855.0" y="586.0" width="29.9" height="20.2"/>
<rect x="1906.3" y="586.0" width="31.4" height="20.2"/>
<rect x="1957.6" y="586.0" width="33.0" height="20.2"/>
<path d="M1751 588H1784V607.8H1765.8V629.3L1770.8 635.9L1767.5 649L1757.6 647.5L1749.3 635.9L1747 609.4Z"/>
<path d="M2008.8 583Q2030 583 2037 611L2019 616Q2015 596 2008.8 583Z"/>
<path d="M2008.8 583H2022Q2034 590 2037.5 611L2019.5 616.5Z"/>
<rect x="2025.5" y="632.2" width="21.0" height="31.5" transform="rotate(-14.6 2036.0 648.0)"/>
<rect x="2038.7" y="682.0" width="21.0" height="31.5" transform="rotate(-10.5 2049.2 697.7)"/>
<rect x="2044.5" y="734.9" width="21.0" height="31.5" transform="rotate(-3.7 2055.0 750.6)"/>
<rect x="2045.5" y="786.1" width="21.0" height="31.5" transform="rotate(1.4 2056.0 801.9)"/>
<rect x="2042.0" y="837.2" width="21.0" height="31.5" transform="rotate(8.4 2052.5 853.0)"/>
<rect x="2030.5" y="888.0" width="21.0" height="31.5" transform="rotate(17.0 2041.0 903.7)"/>
<rect x="2012.2" y="934.2" width="21.0" height="31.5" transform="rotate(30.0 2022.7 950.0)"/>
<rect x="1775.7" y="957.5" width="33.1" height="22.0"/>
<rect x="1827.6" y="957.5" width="32.4" height="22.0"/>
<rect x="1880.0" y="957.5" width="31.3" height="22.0"/>
<rect x="1932.8" y="957.5" width="29.7" height="22.0"/>
<rect x="1984.0" y="957.5" width="31.5" height="22.0"/>
<rect x="1749.3" y="935.1" width="19.8" height="24.9"/>
<rect x="1747.6" y="958.0" width="8.4" height="23.4"/>
<rect x="1765.8" y="652.4" width="21.5" height="24.8"/>
<rect x="1779.5" y="682.2" width="17.0" height="31.5" transform="rotate(-33.0 1788.0 698.0)"/>
<rect x="1798.7" y="729.0" width="19.0" height="20.0" transform="rotate(-30.0 1808.2 739.0)"/>
<rect x="1822.0" y="748.3" width="18.4" height="20.0"/>
<rect x="1841.7" y="769.3" width="20.6" height="27.4"/>
<rect x="1822.0" y="797.7" width="18.4" height="18.4"/>
<rect x="1797.7" y="816.0" width="19.0" height="30.0" transform="rotate(17.0 1807.2 831.0)"/>
<rect x="1777.2" y="862.3" width="19.0" height="20.0" transform="rotate(40.0 1786.7 872.3)"/>
<rect x="1767.5" y="887.1" width="21.5" height="28.2"/>
</g>
<!--THICK-END-->
</g>

<!-- LABELS -->
<g id="labels">
<!--LABELS-BEGIN-->
<text class="num" x="336.1" y="514" font-size="111">2</text>
<text class="num" x="403.8" y="1073.8" font-size="111">3</text>
<text class="num" x="2" y="826.9" font-size="111" transform="matrix(0.91 0 0 1.02 0.9 -16.5)">4</text>
<path d="M911 369.3H923.2V450.4H904.4V394.6H885.4V381.6H894Q905 380 911 369.3Z" fill="#000"/>
<!--LABELS-END-->
</g>
</svg>
</body>
</html>
